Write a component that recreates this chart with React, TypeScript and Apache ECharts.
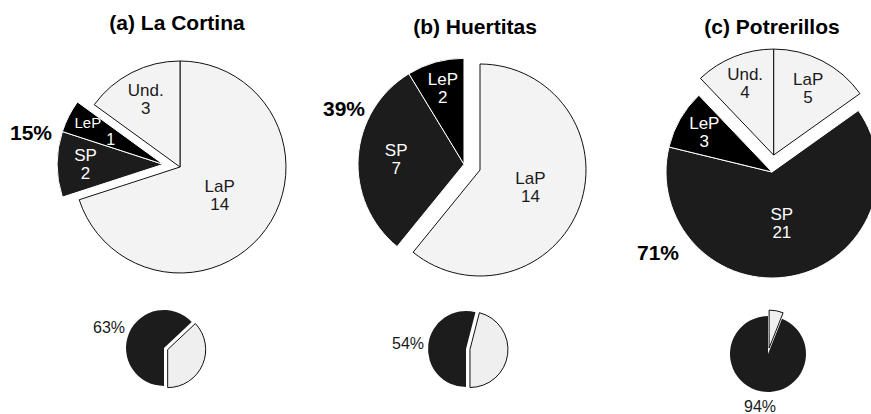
import React, { useEffect, useRef } from "react";
import * as echarts from "echarts";

// ---------- data ----------
const titles = ["(a) La Cortina", "(b) Huertitas", "(c) Potrerillos"];

const catsA = ["LaP", "SP", "LeP", "Und."];
const valsA = [14, 2, 1, 3];
const catsB = ["LaP", "SP", "LeP"];
const valsB = [14, 7, 2];
const catsC = ["LaP", "SP", "LeP", "Und."];
const valsC = [5, 21, 3, 4];

const explodedA = ["SP", "LeP"];
const explodedB = ["SP", "LeP"];
const explodedC = ["Und.", "LaP"];

const groupShareLabels = ["15%", "39%", "71%"];

const smallDark = [63, 54, 94];
const smallLight = [37, 46, 6];
const smallLabels = ["63%", "54%", "94%"];

// ---------- styles / layout ----------
const FONT = '"Liberation Sans", Arial, Helvetica, sans-serif';
const DARK_COLORS: Record<string, string> = { SP: "#1c1c1c", LeP: "#000000" };
const LIGHT_FILL = "#f3f3f3";
const BIG_CENTERS = [
  [180, 167],
  [480, 170],
  [772, 172],
];
const BIG_R = 106;
const EXPLODE = 17;
const SMALL_CENTERS = [
  [164, 348],
  [466, 349],
  [768, 354],
];
const SMALL_R = 38;

function polar(deg: number, d: number) {
  const rad = (deg * Math.PI) / 180;
  return [d * Math.sin(rad), -d * Math.cos(rad)];
}

function bigPieSeries(cats: string[], vals: number[], exploded: string[], center: number[]) {
  const total = vals.reduce((a, b) => a + b, 0);
  let acc = 0;
  const widths = vals.map((v) => (v / total) * 360);
  const mids = vals.map((v) => {
    const start = (acc / total) * 360;
    acc += v;
    return start + (v / total) * 180;
  });
  const inGroup = (i: number) => exploded.includes(cats[i]);
  let sx = 0;
  let sy = 0;
  cats.forEach((_, i) => {
    if (!inGroup(i)) return;
    const w = (widths[i] * Math.PI) / 180;
    const [x, y] = polar(mids[i], Math.sin(w / 2));
    sx += x;
    sy += y;
  });
  const gMid = (Math.atan2(sx, -sy) * 180) / Math.PI;
  const [ox, oy] = polar(gMid, EXPLODE);
  const tiny = vals.map((v) => v / total < 0.06);
  const labelShift = vals.map((v, i) => {
    const f = tiny[i] ? 0.77 : 0.75 - (0.45 * v) / total;
    const s = polar(mids[i], (f - 0.5) * BIG_R);
    if (tiny[i]) s[1] += 5;
    return s;
  });

  const make = (visible: (i: number) => boolean, c: number[]) => ({
    type: "pie",
    center: c,
    radius: BIG_R,
    startAngle: 90,
    clockwise: true,
    silent: true,
    avoidLabelOverlap: false,
    label: {
      show: true,
      position: "inside",
      formatter: "{b}\n{c}",
      fontSize: 17,
      lineHeight: 18,
      fontFamily: FONT,
    },
    labelLine: { show: false },
    labelLayout: (p: any) => {
      const s = labelShift[p.dataIndex] || [0, 0];
      return { dx: s[0], dy: s[1] };
    },
    emphasis: { disabled: true },
    data: cats.map((name, i) => {
      const vis = visible(i);
      const dark = name in DARK_COLORS;
      const txt = dark ? "#ffffff" : "#1a1a1a";
      const label = !vis
        ? { show: false }
        : tiny[i]
        ? {
            show: true,
            formatter: "{n|{b}}\n{v|{c}}",
            rich: {
              n: { fontSize: 15, lineHeight: 17, color: txt, fontFamily: FONT },
              v: { fontSize: 16, lineHeight: 17, color: txt, fontFamily: FONT, padding: [0, 0, 0, 46] },
            },
          }
        : { show: true, color: txt };
      return {
        name,
        value: vals[i],
        itemStyle: vis
          ? {
              color: dark ? DARK_COLORS[name] : LIGHT_FILL,
              borderColor: dark ? "#ffffff" : "#111111",
              borderWidth: 1,
            }
          : { color: "rgba(0,0,0,0)", borderWidth: 0 },
        label,
      };
    }),
  });

  return [make((i) => !inGroup(i), center), make((i) => inGroup(i), [center[0] + ox, center[1] + oy])];
}

function smallPieSeries(k: number) {
  const lightFirst = k === 2;
  const dark = { name: "dark", value: smallDark[k], itemStyle: { color: "#1c1c1c", borderWidth: 0 } };
  const light = {
    name: "light",
    value: smallLight[k],
    selected: true,
    itemStyle: { color: "#efefef", borderColor: "#111111", borderWidth: 1 },
  };
  return {
    type: "pie",
    center: SMALL_CENTERS[k],
    radius: SMALL_R,
    startAngle: lightFirst ? 90 : -90,
    clockwise: true,
    silent: true,
    selectedMode: "single",
    selectedOffset: lightFirst ? 6 : 4,
    label: { show: false },
    labelLine: { show: false },
    emphasis: { disabled: true },
    data: lightFirst ? [light, dark] : [dark, light],
  };
}

const TITLE_POS = [
  [177, 22],
  [475, 26],
  [772, 26],
];
const SHARE_POS = [
  [31, 132],
  [344, 108],
  [658, 252],
];
const SMALL_LABEL_POS = [
  [109, 327],
  [408, 343],
  [760, 406],
];

export default function App() {
  const ref = useRef<HTMLDivElement>(null);
  useEffect(() => {
    if (!ref.current) return;
    const chart = echarts.init(ref.current, undefined, { renderer: "svg" });
    const series: any[] = [
      ...bigPieSeries(catsA, valsA, explodedA, BIG_CENTERS[0]),
      ...bigPieSeries(catsB, valsB, explodedB, BIG_CENTERS[1]),
      ...bigPieSeries(catsC, valsC, explodedC, BIG_CENTERS[2]),
      smallPieSeries(0),
      smallPieSeries(1),
      smallPieSeries(2),
    ];
    const texts: any[] = [];
    const addText = (t: string, pos: number[], font: string, fill: string) =>
      texts.push({
        type: "text",
        x: pos[0],
        y: pos[1],
        style: { text: t, font, fill, textAlign: "center", textVerticalAlign: "middle" },
      });
    titles.forEach((t, i) => addText(t, TITLE_POS[i], `bold 21px ${FONT}`, "#000"));
    groupShareLabels.forEach((t, i) => addText(t, SHARE_POS[i], `bold 21px ${FONT}`, "#000"));
    smallLabels.forEach((t, i) => addText(t, SMALL_LABEL_POS[i], `16px ${FONT}`, "#1a1a1a"));
    chart.setOption({
      animation: false,
      backgroundColor: "#ffffff",
      series,
      graphic: texts,
    });
    return () => chart.dispose();
  }, []);
  return (
    <div
      ref={ref}
      style={{ position: "absolute", left: 0, top: 0, width: 871, height: 414 }}
    />
  );
}
